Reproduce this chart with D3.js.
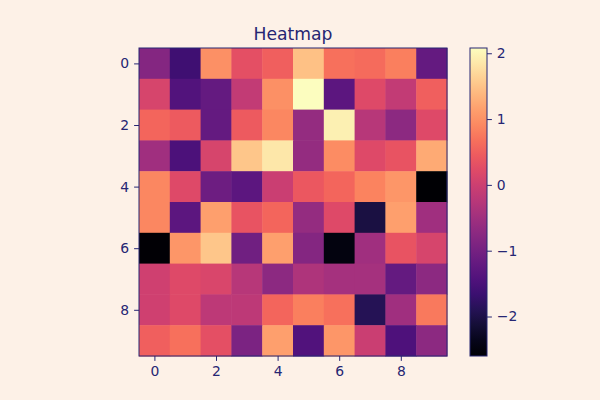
<!DOCTYPE html>
<html><head><meta charset="utf-8">
<script src="https://cdn.jsdelivr.net/npm/d3@7"></script>
<style>html,body{margin:0;padding:0;background:#fdf1e7;}</style>
</head><body>
<svg id="c" width="600" height="400"></svg>
<script>
const rows = [0,1,2,3,4,5,6,7,8,9];
const cols = [0,1,2,3,4,5,6,7,8,9];
const values = [
  [-0.82,-1.62, 1.00, 0.30, 0.50, 1.47, 0.68, 0.63, 0.82,-1.20],
  [ 0.11,-1.40,-1.20,-0.12, 1.00, 2.08,-1.30, 0.20,-0.12, 0.50],
  [ 0.58, 0.44,-1.20, 0.44, 0.90,-0.63, 1.94,-0.26,-0.73, 0.21],
  [-0.50,-1.48, 0.11, 1.52, 1.85,-0.63, 0.96, 0.20, 0.35, 1.24],
  [ 0.90, 0.20,-1.10,-1.30,-0.03, 0.40, 0.58, 0.86, 1.05,-2.60],
  [ 0.90,-1.30, 1.14, 0.35, 0.58,-0.63, 0.20,-2.04, 1.14,-0.50],
  [-2.58, 1.05, 1.52,-1.05, 1.14,-0.82,-2.46,-0.50, 0.35, 0.11],
  [ 0.02, 0.20, 0.16,-0.26,-0.73,-0.35,-0.45,-0.45,-1.20,-0.73],
  [ 0.02, 0.20,-0.17,-0.17, 0.58, 0.82, 0.68,-1.90,-0.50, 0.77],
  [ 0.49, 0.68, 0.30,-0.92, 1.14,-1.42, 1.05,-0.03,-1.45,-0.73]
];
const axisTicks = [0,2,4,6,8];
const cbarTicks = [2,1,0,-1,-2];
const title = "Heatmap";

const ink = "#262673";
const svg = d3.select("#c");
const L = 139, R = 447, T = 48, B = 356;
const x = d3.scaleBand().domain(cols).range([L, R]);
const y = d3.scaleBand().domain(rows).range([T, B]);
const flat = values.flat();
const vmin = d3.min(flat), vmax = d3.max(flat);
const color = d3.scaleSequential(d3.interpolateMagma).domain([vmin, vmax]);

const cells = [];
values.forEach((r, i) => r.forEach((v, j) => cells.push({i, j, v})));
svg.append("g").selectAll("rect").data(cells).join("rect")
  .attr("x", d => x(d.j)).attr("y", d => y(d.i))
  .attr("width", x.bandwidth() + 0.5).attr("height", y.bandwidth() + 0.5)
  .attr("fill", d => color(d.v));

svg.append("rect").attr("x", L).attr("y", T).attr("width", R - L).attr("height", B - T)
  .attr("fill", "none").attr("stroke", ink).attr("stroke-width", 1);

const xc = d3.scaleLinear().domain([-0.5, 9.5]).range([L, R]);
const yc = d3.scaleLinear().domain([-0.5, 9.5]).range([T, B]);
const fmt = d => String(d).replace("-", "\u2212");
const fs = "13.9px";

const xa = svg.append("g").attr("transform", `translate(0,${B})`)
  .call(d3.axisBottom(xc).tickValues(axisTicks).tickSize(4.9).tickPadding(4.9).tickFormat(fmt));
const ya = svg.append("g").attr("transform", `translate(${L},0)`)
  .call(d3.axisLeft(yc).tickValues(axisTicks).tickSize(4.9).tickPadding(4.9).tickFormat(fmt));
[xa, ya].forEach(a => {
  a.select(".domain").remove();
  a.selectAll("line").attr("stroke", ink);
  a.selectAll("text").attr("fill", ink).style("font-family", "DejaVu Sans").style("font-size", fs);
});

// colorbar
const CL = 470, CR = 487;
const cs = d3.scaleLinear().domain([vmin, vmax]).range([B, T]);
const defs = svg.append("defs");
const grad = defs.append("linearGradient").attr("id", "g").attr("x1", 0).attr("y1", 1).attr("x2", 0).attr("y2", 0);
d3.range(0, 1.0001, 0.05).forEach(t => grad.append("stop").attr("offset", t).attr("stop-color", d3.interpolateMagma(t)));
svg.append("rect").attr("x", CL).attr("y", T).attr("width", CR - CL).attr("height", B - T)
  .attr("fill", "url(#g)").attr("stroke", ink).attr("stroke-width", 1);
const ca = svg.append("g").attr("transform", `translate(${CR},0)`)
  .call(d3.axisRight(cs).tickValues(cbarTicks).tickSize(4.9).tickPadding(4.9).tickFormat(fmt));
ca.select(".domain").remove();
ca.selectAll("line").attr("stroke", ink);
ca.selectAll("text").attr("fill", ink).style("font-family", "DejaVu Sans").style("font-size", fs);

svg.append("text").attr("x", (L + R) / 2).attr("y", 40).attr("text-anchor", "middle")
  .attr("fill", ink).style("font-family", "DejaVu Sans").style("font-size", "17.2px").text(title);
</script>
</body></html>
